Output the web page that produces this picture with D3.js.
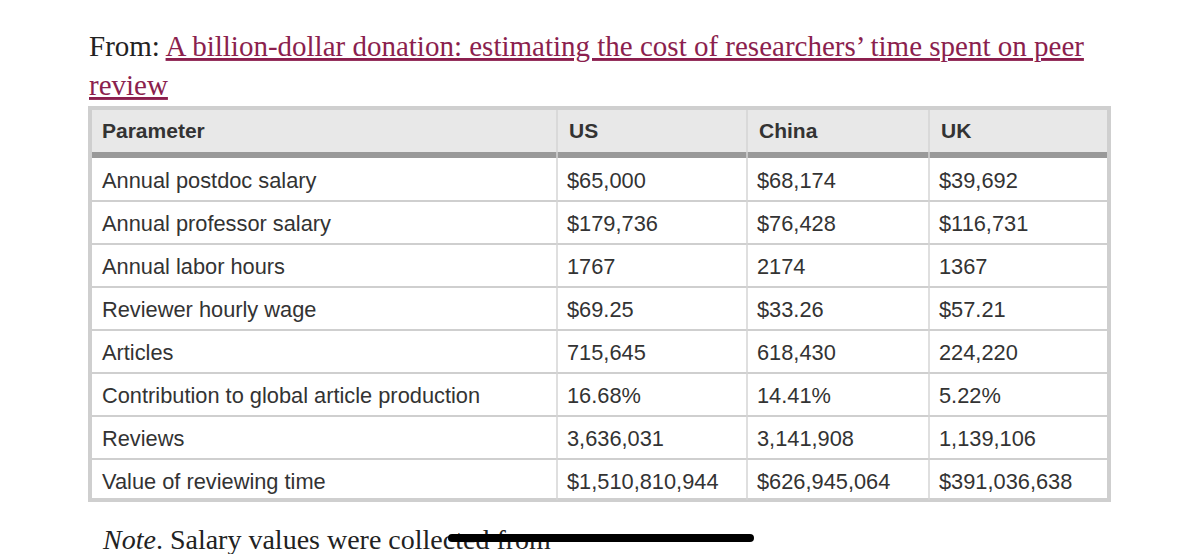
<!DOCTYPE html>
<html><head><meta charset="utf-8">
<script src="https://cdn.jsdelivr.net/npm/d3@7"></script>
<style>body{margin:0;background:#fff}</style></head>
<body><svg id="c" width="1200" height="554"></svg>
<script>
const columns = ["Parameter","US","China","UK"];
const parameters = ["Annual postdoc salary","Annual professor salary","Annual labor hours","Reviewer hourly wage","Articles","Contribution to global article production","Reviews","Value of reviewing time"];
const usValues = ["$65,000","$179,736","1767","$69.25","715,645","16.68%","3,636,031","$1,510,810,944"];
const chinaValues = ["$68,174","$76,428","2174","$33.26","618,430","14.41%","3,141,908","$626,945,064"];
const ukValues = ["$39,692","$116,731","1367","$57.21","224,220","5.22%","1,139,106","$391,036,638"];

const svg = d3.select("#c");
const sans = "'Helvetica Neue', 'Liberation Sans', Arial, sans-serif";
const serif = "'Liberation Serif', 'DejaVu Serif', serif";

const t1 = svg.append("text").attr("x",89).attr("y",56).attr("font-family",serif).attr("font-size",29).attr("fill","#222");
t1.append("tspan").text("From: ");
t1.append("tspan").attr("fill","#8b1f4e").attr("text-decoration","underline").text("A billion-dollar donation: estimating the cost of researchers’ time spent on peer");
svg.append("text").attr("x",89).attr("y",95).attr("font-family",serif).attr("font-size",29).attr("fill","#8b1f4e").attr("text-decoration","underline").text("review");

const colEdges = [90,557,747,929,1109];
const x = d3.scaleOrdinal().domain(columns).range(colEdges.slice(0,4));
const y = d3.scaleBand().domain(parameters).range([158,502]).padding(0);

svg.append("rect").attr("x",90).attr("y",108).attr("width",1019).attr("height",392).attr("fill","#fff").attr("stroke","#cfcfcf").attr("stroke-width",4);
svg.append("rect").attr("x",92).attr("y",110).attr("width",1015).attr("height",43).attr("fill","#e8e8e8");
svg.append("rect").attr("x",92).attr("y",152).attr("width",1015).attr("height",6).attr("fill","#999");

svg.selectAll(".rl").data(parameters.slice(1)).join("line")
  .attr("x1",92).attr("x2",1107).attr("y1",d=>y(d)).attr("y2",d=>y(d)).attr("stroke","#cfcfcf").attr("stroke-width",2);
svg.selectAll(".cl").data(columns.slice(1)).join("line")
  .attr("x1",d=>x(d)).attr("x2",d=>x(d)).attr("y1",110).attr("y2",500).attr("stroke","#d4d4d4").attr("stroke-width",1.5);

svg.selectAll(".ht").data(columns).join("text")
  .attr("x",d=>x(d)+12).attr("y",138).attr("font-family",sans).attr("font-size",21).attr("font-weight","bold").attr("fill","#333").text(d=>d);

const series = [parameters, usValues, chinaValues, ukValues];
series.forEach((vals,ci)=>{
  svg.selectAll(".c"+ci).data(vals).join("text")
    .attr("x",x(columns[ci])+(ci===0?12:10)).attr("y",(d,i)=>y(parameters[i])+y.bandwidth()/2+8)
    .attr("font-family",sans).attr("font-size",21.8).attr("fill","#333").text(d=>d);
});

const n = svg.append("text").attr("x",103).attr("y",549).attr("font-family",serif).attr("font-size",28).attr("fill","#222");
n.append("tspan").attr("font-style","italic").text("Note");
n.append("tspan").text(". Salary values were collected from");
svg.append("line").attr("x1",452).attr("x2",750).attr("y1",538).attr("y2",538).attr("stroke","#000").attr("stroke-width",8).attr("stroke-linecap","round");
</script></body></html>
